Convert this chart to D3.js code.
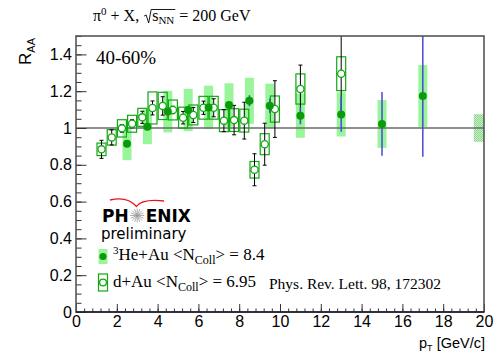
<!DOCTYPE html>
<html>
<head>
<meta charset="utf-8">
<script src="https://cdn.jsdelivr.net/npm/d3@7"></script>
<style>
  body { margin: 0; background: #fff; }
  svg { display: block; }
  .serif { font-family: "Liberation Serif", "Times New Roman", serif; fill: #000; }
  .sans { font-family: "Liberation Sans", Arial, sans-serif; fill: #000; }
</style>
</head>
<body>
<svg id="chart" width="500" height="360"></svg>
<script>
// d+Au (PRL 98, 172302) - open circles, boxes = systematics
var dauPt = [1.25, 1.75, 2.25, 2.75, 3.25, 3.75, 4.25, 4.75, 5.25, 5.75, 6.25, 6.75, 7.25, 7.75, 8.25, 8.75, 9.25, 9.75, 11, 13];
var dauR = [0.884, 0.949, 0.998, 1.023, 1.058, 1.109, 1.12, 1.098, 1.056, 1.071, 1.11, 1.11, 1.04, 1.043, 1.04, 0.773, 0.912, 1.103, 1.212, 1.295];
var dauStat = [0.049, 0.041, 0.021, 0.022, 0.033, 0.038, 0.05, 0.02, 0.034, 0.041, 0.036, 0.049, 0.06, 0.08, 0.1, 0.087, 0.114, 0.154, 0.13, 0.22];
var dauSys = [0.034, 0.042, 0.047, 0.046, 0.049, 0.087, 0.074, 0.054, 0.057, 0.054, 0.062, 0.062, 0.06, 0.062, 0.062, 0.045, 0.057, 0.071, 0.082, 0.092];

// 3He+Au - filled circles, bands = systematics, blue = stat
var hePt = [2.5, 3.5, 4.5, 5.5, 6.5, 7.5, 8.5, 9.5, 11, 13, 15, 17];
var heR = [0.915, 1.007, 1.089, 1.098, 1.112, 1.125, 1.148, 1.121, 1.067, 1.074, 1.022, 1.174];
var heStat = [0.01, 0.012, 0.014, 0.015, 0.016, 0.018, 0.03, 0.04, 0.047, 0.094, 0.173, 0.33];
var heSys = [0.09, 0.095, 0.113, 0.115, 0.118, 0.118, 0.125, 0.12, 0.12, 0.12, 0.13, 0.168];

// global normalization uncertainty
var normPt = [19.75];
var normSys = [0.075];

var xTicks = [0, 2, 4, 6, 8, 10, 12, 14, 16, 18, 20];
var yTicks = [0, 0.2, 0.4, 0.6, 0.8, 1, 1.2, 1.4];
var yTickLabels = ['0', '0.2', '0.4', '0.6', '0.8', '1', '1.2', '1.4'];

var green = '#0a9a0a', band = '#99f599', boxGreen = '#12a812', blue = '#4848d8';
var halfW = 0.22;
var NB = '\u00a0';

var svg = d3.select('#chart');
var x = d3.scaleLinear().domain([0, 20]).range([76, 484]);
var y = d3.scaleLinear().domain([0, 1.5]).range([312, 36]);

var defs = svg.append('defs');
defs.append('clipPath').attr('id', 'frame').append('rect')
  .attr('x', x(0)).attr('y', y(1.5)).attr('width', x(20) - x(0)).attr('height', y(0) - y(1.5));
var pat = defs.append('pattern').attr('id', 'hatch').attr('patternUnits', 'userSpaceOnUse')
  .attr('width', 2).attr('height', 2);
pat.append('rect').attr('width', 2).attr('height', 2).attr('fill', '#c4eec4');
pat.append('rect').attr('width', 1).attr('height', 1).attr('fill', '#8fd88f');
pat.append('rect').attr('x', 1).attr('y', 1).attr('width', 1).attr('height', 1).attr('fill', '#8fd88f');

var plot = svg.append('g').attr('clip-path', 'url(#frame)');

var he = hePt.map(function(p, i) { return {pt: p, r: heR[i], stat: heStat[i], sys: heSys[i]}; });
var dau = dauPt.map(function(p, i) { return {pt: p, r: dauR[i], stat: dauStat[i], sys: dauSys[i]}; });

// He+Au systematic bands
plot.selectAll('rect.band').data(he).enter().append('rect').attr('class', 'band')
  .attr('x', function(d) { return x(d.pt - halfW); })
  .attr('width', function(d) { return x(d.pt + halfW) - x(d.pt - halfW); })
  .attr('y', function(d) { return y(d.r + d.sys); })
  .attr('height', function(d) { return y(d.r - d.sys) - y(d.r + d.sys); })
  .attr('fill', band);

plot.selectAll('rect.norm').data(normPt).enter().append('rect').attr('class', 'norm')
  .attr('x', function(d) { return x(d - 0.25); })
  .attr('width', function(d) { return x(d + 0.25) - x(d - 0.25); })
  .attr('y', function(d, i) { return y(1 + normSys[i]); })
  .attr('height', function(d, i) { return y(1 - normSys[i]) - y(1 + normSys[i]); })
  .attr('fill', 'url(#hatch)');

// reference line at 1
plot.append('line').attr('x1', x(0)).attr('x2', x(20)).attr('y1', y(1)).attr('y2', y(1))
  .attr('stroke', '#6a6a6a').attr('stroke-width', 1.5);

// d+Au systematic boxes
plot.selectAll('rect.box').data(dau).enter().append('rect').attr('class', 'box')
  .attr('x', function(d) { return x(d.pt - halfW); })
  .attr('width', function(d) { return x(d.pt + halfW) - x(d.pt - halfW); })
  .attr('y', function(d) { return y(d.r + d.sys); })
  .attr('height', function(d) { return y(d.r - d.sys) - y(d.r + d.sys); })
  .attr('fill', 'none').attr('stroke', boxGreen).attr('stroke-width', 1.2);

// d+Au stat errors with caps
var eb = plot.selectAll('g.err').data(dau).enter().append('g').attr('class', 'err')
  .attr('stroke', '#000').attr('stroke-width', 1);
eb.append('line')
  .attr('x1', function(d) { return x(d.pt); }).attr('x2', function(d) { return x(d.pt); })
  .attr('y1', function(d) { return y(d.r + d.stat); }).attr('y2', function(d) { return y(d.r - d.stat); });
[1, -1].forEach(function(s) {
  eb.append('line')
    .attr('x1', function(d) { return x(d.pt) - 2; }).attr('x2', function(d) { return x(d.pt) + 2; })
    .attr('y1', function(d) { return y(d.r + s * d.stat); }).attr('y2', function(d) { return y(d.r + s * d.stat); });
});

// He+Au stat errors
plot.selectAll('line.hstat').data(he).enter().append('line').attr('class', 'hstat')
  .attr('x1', function(d) { return x(d.pt); }).attr('x2', function(d) { return x(d.pt); })
  .attr('y1', function(d) { return y(d.r + d.stat); }).attr('y2', function(d) { return y(d.r - d.stat); })
  .attr('stroke', blue).attr('stroke-width', 1.5);

// markers
plot.selectAll('circle.dau').data(dau).enter().append('circle').attr('class', 'dau')
  .attr('cx', function(d) { return x(d.pt); }).attr('cy', function(d) { return y(d.r); })
  .attr('r', 3.6).attr('fill', '#fff').attr('stroke', boxGreen).attr('stroke-width', 1.3);
plot.selectAll('circle.he').data(he).enter().append('circle').attr('class', 'he')
  .attr('cx', function(d) { return x(d.pt); }).attr('cy', function(d) { return y(d.r); })
  .attr('r', 4).attr('fill', green);

// axes
var axisColor = '#333';
function styleAxis(g) {
  g.selectAll('path.domain').remove();
  g.selectAll('line').attr('stroke', axisColor).attr('stroke-width', 1);
  g.selectAll('text').attr('class', 'sans').attr('font-size', 16).attr('fill', '#000');
}
var xMinor = d3.range(0, 20.001, 0.4);
var yMinor = d3.range(0, 1.5001, 0.05);

svg.append('g').attr('transform', 'translate(0,' + y(0) + ')')
  .call(d3.axisBottom(x).tickValues(xMinor).tickSize(-3.5).tickFormat(''))
  .call(styleAxis);
svg.append('g').attr('transform', 'translate(0,' + y(0) + ')')
  .call(d3.axisBottom(x).tickValues(xTicks).tickSize(-8).tickPadding(4).tickFormat(d3.format('d')))
  .call(styleAxis);
svg.append('g').attr('transform', 'translate(' + x(0) + ',0)')
  .call(d3.axisLeft(y).tickValues(yMinor).tickSize(-5.5).tickFormat(''))
  .call(styleAxis);
svg.append('g').attr('transform', 'translate(' + x(0) + ',0)')
  .call(d3.axisLeft(y).tickValues(yTicks).tickSize(-10.5).tickPadding(4)
    .tickFormat(function(d, i) { return yTickLabels[i]; }))
  .call(styleAxis);

// frame
svg.append('rect').attr('x', x(0)).attr('y', y(1.5)).attr('width', x(20) - x(0)).attr('height', y(0) - y(1.5))
  .attr('fill', 'none').attr('stroke', '#555').attr('stroke-width', 1.6);
svg.append('line').attr('x1', x(0)).attr('x2', x(20)).attr('y1', y(0)).attr('y2', y(0))
  .attr('stroke', '#1a1a2a').attr('stroke-width', 1.6);

// axis titles
var ylab = svg.append('text').attr('class', 'sans').attr('font-size', 17)
  .attr('transform', 'translate(31,38) rotate(-90)').attr('text-anchor', 'end');
ylab.append('tspan').text('R');
ylab.append('tspan').attr('font-size', 11).attr('dy', 4).text('AA');

var xlab = svg.append('text').attr('class', 'sans').attr('font-size', 14.5)
  .attr('x', 485).attr('y', 348).attr('text-anchor', 'end');
xlab.append('tspan').text('p');
xlab.append('tspan').attr('font-size', 9).attr('dy', 3).text('T');
xlab.append('tspan').attr('dy', -3).text(NB + '[GeV/c]');

// title: pi0 + X, sqrt(s_NN) = 200 GeV
var t1 = svg.append('text').attr('class', 'serif').attr('font-size', 16).attr('x', 93).attr('y', 21);
t1.append('tspan').text('\u03c0');
t1.append('tspan').attr('font-size', 11).attr('dy', -6).text('0');
t1.append('tspan').attr('dy', 6).text(NB + '+' + NB + 'X,' + NB);
var rx = 93 + t1.node().getComputedTextLength() + 1;
var t2 = svg.append('text').attr('class', 'serif').attr('font-size', 16).attr('x', rx + 8).attr('y', 21);
t2.append('tspan').text('s');
t2.append('tspan').attr('font-size', 11).attr('dy', 3).text('NN');
var sEnd = rx + 8 + t2.node().getComputedTextLength();
svg.append('path')
  .attr('d', 'M' + rx + ',16 L' + (rx + 2) + ',15 L' + (rx + 4.5) + ',23 L' + (rx + 7) + ',9.5 L' + (sEnd + 1) + ',9.5')
  .attr('fill', 'none').attr('stroke', '#000').attr('stroke-width', 0.9);
svg.append('text').attr('class', 'serif').attr('font-size', 16).attr('x', sEnd + 1).attr('y', 21)
  .text(NB + '=' + NB + '200' + NB + 'GeV');

svg.append('text').attr('class', 'serif').attr('font-size', 19).attr('x', 96).attr('y', 64).text('40-60%');

// PHENIX logo
var logo = svg.append('g');
logo.append('path').attr('d', 'M110,200 C120,197.5 130,199 136.5,206.5 C140,201.5 150,199.5 164,201')
  .attr('fill', 'none').attr('stroke', '#e8141c').attr('stroke-width', 1.3);
var ph = logo.append('text').attr('x', 102).attr('y', 222)
  .attr('font-family', '"DejaVu Sans", Verdana, sans-serif').attr('font-weight', 'bold').attr('font-size', 17).text('PH');
var starX = 102 + ph.node().getComputedTextLength() + 8.5, starY = 215.5;
logo.selectAll('line.ray').data(d3.range(16)).enter().append('line').attr('class', 'ray')
  .attr('x1', starX).attr('y1', starY)
  .attr('x2', function(d) { return starX + 7 * Math.cos(d * Math.PI / 8); })
  .attr('y2', function(d) { return starY + 7 * Math.sin(d * Math.PI / 8); })
  .attr('stroke', '#999').attr('stroke-width', 0.8);
logo.append('text').attr('x', starX + 8.5).attr('y', 222)
  .attr('font-family', '"DejaVu Sans", Verdana, sans-serif').attr('font-weight', 'bold').attr('font-size', 17).text('ENIX');
logo.append('text').attr('x', 101).attr('y', 239)
  .attr('font-family', '"DejaVu Sans", Verdana, sans-serif').attr('font-size', 15).text('preliminary');

// legend
var leg = svg.append('g');
leg.append('rect').attr('x', 98.5).attr('y', 249).attr('width', 9).attr('height', 15).attr('fill', band);
leg.append('circle').attr('cx', 103).attr('cy', 256.5).attr('r', 3.6).attr('fill', green);
leg.append('rect').attr('x', 98.5).attr('y', 274).attr('width', 9).attr('height', 17)
  .attr('fill', 'none').attr('stroke', boxGreen).attr('stroke-width', 1.2);
leg.append('circle').attr('cx', 103).attr('cy', 282.5).attr('r', 3.4).attr('fill', '#fff')
  .attr('stroke', boxGreen).attr('stroke-width', 1.3);

var l1 = leg.append('text').attr('class', 'serif').attr('font-size', 17).attr('x', 113).attr('y', 260);
l1.append('tspan').attr('font-size', 11).attr('dy', -6).text('3');
l1.append('tspan').attr('dy', 6).text('He+Au' + NB + '<N');
l1.append('tspan').attr('font-size', 12).attr('dy', 4).text('Coll');
l1.append('tspan').attr('dy', -4).text('>' + NB + '=' + NB + '8.4');

var l2 = leg.append('text').attr('class', 'serif').attr('font-size', 17).attr('x', 113).attr('y', 287);
l2.append('tspan').text('d+Au' + NB + '<N');
l2.append('tspan').attr('font-size', 12).attr('dy', 4).text('Coll');
l2.append('tspan').attr('dy', -4).text('>' + NB + '=' + NB + '6.95');

leg.append('text').attr('class', 'serif').attr('font-size', 15.5).attr('x', 269).attr('y', 289)
  .text('Phys. Rev. Lett. 98, 172302');
</script>
</body>
</html>
